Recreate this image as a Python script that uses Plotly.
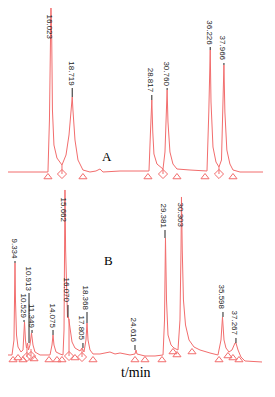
import plotly.graph_objects as go

# ---------------- Chromatogram A ----------------
a_time = [10.31, 13.36, 15.39, 15.64, 15.83, 15.96, 16.02, 16.12, 16.21, 16.40, 16.78, 17.42,
          17.93, 18.31, 18.56, 18.72, 18.81, 19.07, 19.45, 20.08, 20.97, 21.73, 22.24, 22.62,
          24.78, 28.08, 28.46, 28.65, 28.82, 28.94, 29.09, 29.47, 29.98, 30.24, 30.49, 30.64,
          30.76, 30.87, 31.12, 31.50, 32.01, 33.66, 35.57, 35.82, 36.05, 36.23, 36.33, 36.58,
          36.96, 37.34, 37.66, 37.85, 37.97, 38.09, 38.34, 38.73, 39.12, 40.01, 42.93]
a_signal = [0, 0, 0, 0, 52, 132, 167, 132, 62, 27, 14, 7,
            17, 37, 62, 75, 62, 32, 12, 2, 0, 1, 3, 0,
            1, 1, 1, 40, 72, 40, 18, 8, 4, 3, 20, 55,
            82, 50, 20, 8, 3, 2, 1, 1, 60, 122, 70, 25,
            10, 5, 12, 60, 107, 60, 22, 8, 2, 0, 0]

a_peak_rt = ["16.023", "18.719", "28.817", "30.760", "36.226", "37.966"]
a_peak_time = [16.02, 18.72, 28.82, 30.76, 36.23, 37.97]
a_peak_apex = [167, 75, 72, 82, 122, 107]
a_label_base = [130, 84, 77, 84, 125, 109]

a_tri_time = [15.64, 20.08, 28.33, 32.01, 35.57, 39.12]
a_tri_sig = [-5, -5, -5, -5, -5, -5]
a_dia_time = [17.42, 30.24, 37.34]
a_dia_sig = [-2, -2, -2]
a_valley_sig = [7, 3, 5]

# ---------------- Chromatogram B ----------------
b_time = [8.21, 8.97, 9.22, 9.31, 9.35, 9.41, 9.54, 9.73, 10.11, 10.36, 10.49, 10.55,
          10.67, 10.80, 10.93, 11.05, 11.24, 11.43, 11.62, 11.87, 12.51, 13.77, 14.02, 14.15,
          14.27, 14.53, 15.03, 15.41, 15.54, 15.61, 15.66, 15.74, 15.85, 15.98, 16.10, 16.29,
          16.55, 16.92, 17.56, 17.81, 18.06, 18.31, 18.44, 18.57, 18.82, 19.20, 20.08, 21.34,
          21.98, 22.61, 23.87, 24.50, 24.63, 24.75, 25.76, 27.03, 28.04, 28.23, 28.35, 28.48,
          28.67, 29.05, 29.42, 29.93, 30.18, 30.31, 30.37, 30.47, 30.62, 30.88, 31.32, 31.95,
          32.71, 33.97, 34.98, 35.36, 35.55, 35.74, 35.99, 36.37, 36.75, 37.13, 37.25, 37.51,
          37.88, 38.39, 40.54]
b_signal = [0, 0, 15, 55, 92, 55, 20, 8, 3, 5, 20, 33,
            15, 7, 12, 5, 10, 22, 10, 3, 0, 0, 10, 20,
            10, 3, 1, 0, 25, 105, 165, 105, 55, 37, 38, 25,
            13, 7, 4, 7, 3, 15, 32, 15, 5, 1, 1, 3,
            1, 2, 0, 1, 5, 1, -1, -1, 0, 35, 117, 55,
            20, 10, 7, 5, 35, 105, 158, 105, 55, 30, 15, 8,
            5, 2, 0, 15, 38, 15, 7, 3, 5, 12, 12, 5,
            -2, -6, -7]

b_peak_rt = ["9.334", "10.529", "10.913", "11.349", "14.075", "15.662", "16.070",
             "17.805", "18.368", "24.616", "29.381", "30.303", "35.598", "37.267"]
b_peak_time = [9.35, 10.49, 11.12, 11.50, 14.15, 15.66, 16.04,
               17.93, 18.44, 24.50, 28.29, 30.43, 35.61, 37.25]
b_peak_apex = [92, 33, 12, 22, 20, 165, 38, 7, 32, 5, 117, 158, 38, 12]
b_label_base = [94, 35, 62, 25, 25, 130, 50, 12, 43, 10, 125, 125, 43, 17]

b_tri_time = [9.10, 9.73, 10.36, 11.75, 13.64, 14.65, 15.28, 16.92, 19.20, 24.50, 25.76,
              27.91, 29.30, 29.80, 31.70, 35.11, 36.24, 36.87, 37.63]
b_tri_sig = [-5, -3, -5, -4, -5, -5, -5, -3, -5, -5, -5, -5, 3, 0, 3, -5, -1, -3, -5]
b_dia_time = [10.86, 11.37, 16.17, 17.81]
b_dia_sig = [-2, -1, -1, -2]
b_valley_sig = [8, 6, 36, 6]

RED = "#f26d6d"
DARK = "#222222"

fig = go.Figure()


def add_chrom(t, s, tri_t, tri_s, dia_t, dia_s, valley, names, pt, apex, base, xa, ya):
    fig.add_trace(go.Scatter(x=t, y=s, mode="lines", line=dict(color=RED, width=1),
                             xaxis=xa, yaxis=ya, hoverinfo="skip"))
    # drop lines from valleys to the diamond markers
    dx, dy = [], []
    for x, lo, hi in zip(dia_t, dia_s, valley):
        dx += [x, x, None]
        dy += [lo, hi, None]
    fig.add_trace(go.Scatter(x=dx, y=dy, mode="lines", line=dict(color=RED, width=1),
                             xaxis=xa, yaxis=ya, hoverinfo="skip"))
    fig.add_trace(go.Scatter(x=tri_t, y=tri_s, mode="markers",
                             marker=dict(symbol="triangle-up-open", size=7, color=RED,
                                         line=dict(width=1, color=RED)),
                             xaxis=xa, yaxis=ya, hoverinfo="skip"))
    fig.add_trace(go.Scatter(x=dia_t, y=dia_s, mode="markers",
                             marker=dict(symbol="diamond-open", size=7, color=RED,
                                         line=dict(width=1, color=RED)),
                             xaxis=xa, yaxis=ya, hoverinfo="skip"))
    # stems from apex to label
    sx, sy = [], []
    for x, a, b in zip(pt, apex, base):
        if b > a:
            sx += [x, x, None]
            sy += [a, b, None]
    fig.add_trace(go.Scatter(x=sx, y=sy, mode="lines", line=dict(color=DARK, width=1),
                             xaxis=xa, yaxis=ya, hoverinfo="skip"))
    for name, x, b in zip(names, pt, base):
        fig.add_annotation(x=x, y=b, xref=xa, yref=ya, text=name, showarrow=False,
                           textangle=90, xanchor="center", yanchor="bottom", xshift=-1,
                           font=dict(family="Liberation Sans, Arial", size=8, color=DARK))


add_chrom(a_time, a_signal, a_tri_time, a_tri_sig, a_dia_time, a_dia_sig, a_valley_sig,
          a_peak_rt, a_peak_time, a_peak_apex, a_label_base, "x", "y")
add_chrom(b_time, b_signal, b_tri_time, b_tri_sig, b_dia_time, b_dia_sig, b_valley_sig,
          b_peak_rt, b_peak_time, b_peak_apex, b_label_base, "x2", "y2")

fig.add_annotation(x=0.371, y=0.617, xref="paper", yref="paper", text="A", showarrow=False,
                   font=dict(family="Liberation Serif", size=13, color="black"))
fig.add_annotation(x=0.375, y=0.326, xref="paper", yref="paper", text="B", showarrow=False,
                   font=dict(family="Liberation Serif", size=13, color="black"))
fig.add_annotation(x=0.479, y=0.039, xref="paper", yref="paper", text="t/min", showarrow=False,
                   font=dict(family="Liberation Serif", size=14, color="black"))

hidden = dict(visible=False, showgrid=False, zeroline=False, fixedrange=True)
fig.update_layout(
    width=267, height=389,
    margin=dict(l=0, r=0, t=0, b=0),
    paper_bgcolor="white", plot_bgcolor="white",
    showlegend=False,
    xaxis=dict(range=[10.57, 44.45], domain=[0, 1], anchor="y", **hidden),
    yaxis=dict(range=[-13, 164], domain=[0.545, 1], anchor="x", **hidden),
    xaxis2=dict(range=[8.465, 42.18], domain=[0, 1], anchor="y2", **hidden),
    yaxis2=dict(range=[-42, 170], domain=[0, 0.545], anchor="x2", **hidden),
)

fig.write_html("out.html")
